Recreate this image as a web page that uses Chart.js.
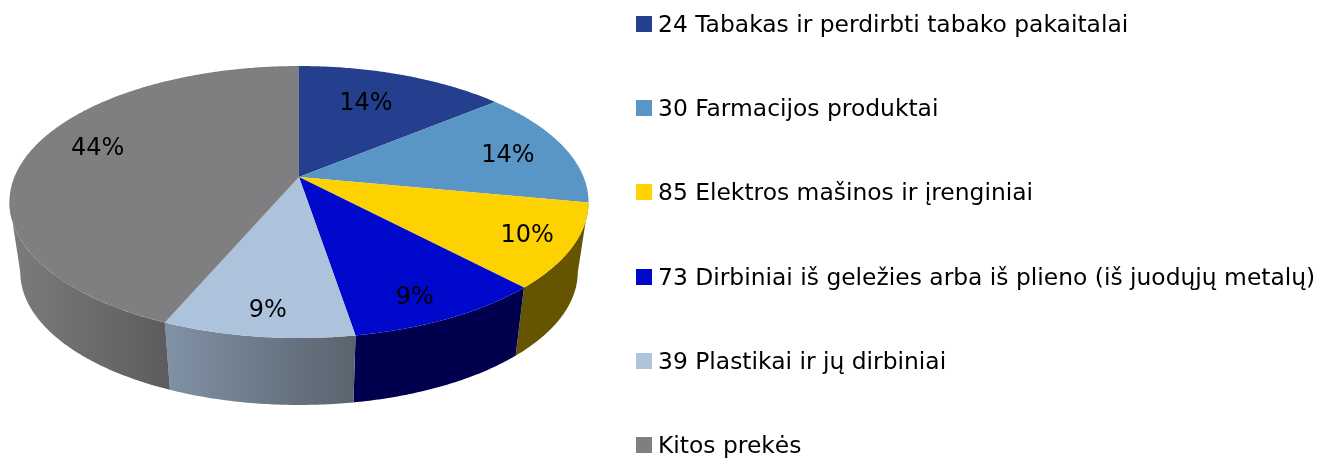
<!DOCTYPE html>
<html>
<head>
<meta charset="utf-8">
<style>
html, body { margin: 0; padding: 0; background: #fff; width: 1330px; height: 459px; overflow: hidden; }
#wrap { position: relative; width: 1330px; height: 459px; }
#pie { position: absolute; left: 0; top: 0; width: 1330px; height: 459px; }
#legenda { position: absolute; left: 636px; top: 0; margin: 0; padding: 0; list-style: none; }
#legenda li { position: relative; height: 84.2px; white-space: nowrap; color: #000;
  font: 23.4px "DejaVu Sans"; line-height: 48px; }
#legenda i { position: absolute; left: 0; top: 16px; width: 16px; height: 16px; }
#legenda span { position: absolute; left: 22px; top: 0; }
</style>
</head>
<body>
<div id="wrap">
  <canvas id="pie" width="1330" height="459"></canvas>
  <ul id="legenda"></ul>
</div>
<script src="https://cdn.jsdelivr.net/npm/chart.js@4/dist/chart.umd.min.js"></script>
<script>
// Duomenys
const kategorijos = [
  '24 Tabakas ir perdirbti tabako pakaitalai',
  '30 Farmacijos produktai',
  '85 Elektros mašinos ir įrenginiai',
  '73 Dirbiniai iš geležies arba iš plieno (iš juodųjų metalų)',
  '39 Plastikai ir jų dirbiniai',
  'Kitos prekės'
];
const reiksmes = [14.0, 14.0, 10.0, 9.4, 9.0, 43.6];
const etiketes = ['14%', '14%', '10%', '9%', '9%', '44%'];

// Spalvos
const spalvos = ['#243f8e', '#5a96c5', '#fdd200', '#0008cc', '#adc3dc', '#7f7f82'];
const sonoSpalvos = [
  ['#16265a', '#16265a'],
  ['#365a76', '#365a76'],
  ['#665500', '#665500'],
  ['#00004f', '#00004f'],
  ['#8090a5', '#5a646e'],
  ['#7a7a7d', '#5c5c5e']
];

// Perspektyva: virsutine ir apatine skritulio plokstumos
const virsus = { y0: 177, a: 284.6, b: 131.4 };
const apacia = { y0: 247.5, a: 274, b: 128.5 };
const cx = 299, k = 0.184;

function taskas(pl, kampas, r) {
  const u = Math.sin(kampas) * r, v = -Math.cos(kampas) * r;
  const w = 1 - k * v;
  return [cx + pl.a * u / w, pl.y0 + pl.b * v / w];
}

function lankas(ctx, pl, nuo, iki) {
  const n = Math.max(2, Math.ceil(Math.abs(iki - nuo) / 0.01));
  for (let i = 0; i <= n; i++) {
    const p = taskas(pl, nuo + (iki - nuo) * i / n, 1);
    ctx.lineTo(p[0], p[1]);
  }
}

// Etikeciu poslinkiai nuo numatytos vietos
const poslinkiai = [[-9, 1], [22, 1], [42, 12], [16, 28], [-4, 29], [-11, -10]];

const pie3d = {
  id: 'pie3d',
  beforeDatasetsDraw(chart) {
    const ctx = chart.ctx;
    const lankai = chart.getDatasetMeta(0).data;
    // matoma sienos dalis baigiasi ties elipses krastais
    const krastas = Math.asin(k);
    ctx.save();

    // sonines sienos
    lankai.forEach((arc, i) => {
      const nuo = Math.max(arc.startAngle + Math.PI / 2, Math.PI / 2 + krastas);
      const iki = Math.min(arc.endAngle + Math.PI / 2, Math.PI * 1.5 - krastas);
      if (iki <= nuo) return;
      const x1 = taskas(apacia, nuo, 1)[0], x2 = taskas(apacia, iki, 1)[0];
      const g = ctx.createLinearGradient(Math.min(x1, x2), 0, Math.max(x1, x2), 0);
      g.addColorStop(0, sonoSpalvos[i][0]);
      g.addColorStop(1, sonoSpalvos[i][1]);
      ctx.fillStyle = g;
      ctx.beginPath();
      lankas(ctx, virsus, nuo, iki);
      lankas(ctx, apacia, iki, nuo);
      ctx.closePath();
      ctx.fill();
    });

    // virsutine plokstuma
    lankai.forEach((arc, i) => {
      const nuo = arc.startAngle + Math.PI / 2;
      const iki = arc.endAngle + Math.PI / 2;
      ctx.fillStyle = spalvos[i];
      ctx.beginPath();
      ctx.moveTo(cx, virsus.y0);
      lankas(ctx, virsus, nuo, iki);
      ctx.closePath();
      ctx.fill();
    });

    // procentai
    ctx.fillStyle = '#000';
    ctx.font = '24px "DejaVu Sans"';
    ctx.textAlign = 'center';
    ctx.textBaseline = 'middle';
    lankai.forEach((arc, i) => {
      const vid = (arc.startAngle + arc.endAngle) / 2 + Math.PI / 2;
      const p = taskas(virsus, vid, 0.7);
      ctx.fillText(etiketes[i], p[0] + poslinkiai[i][0], p[1] + poslinkiai[i][1]);
    });

    ctx.restore();
    return false;
  }
};

const htmlLegenda = {
  id: 'htmlLegenda',
  afterUpdate(chart) {
    const ul = document.getElementById('legenda');
    ul.innerHTML = '';
    chart.options.plugins.legend.labels.generateLabels(chart).forEach(item => {
      const li = document.createElement('li');
      const box = document.createElement('i');
      box.style.background = item.fillStyle;
      const txt = document.createElement('span');
      txt.textContent = item.text;
      li.appendChild(box);
      li.appendChild(txt);
      ul.appendChild(li);
    });
  }
};

new Chart(document.getElementById('pie').getContext('2d'), {
  type: 'pie',
  data: {
    labels: kategorijos,
    datasets: [{ data: reiksmes, backgroundColor: spalvos, borderWidth: 0 }]
  },
  options: {
    responsive: false,
    animation: false,
    plugins: { legend: { display: false }, tooltip: { enabled: false } }
  },
  plugins: [pie3d, htmlLegenda]
});
</script>
</body>
</html>
